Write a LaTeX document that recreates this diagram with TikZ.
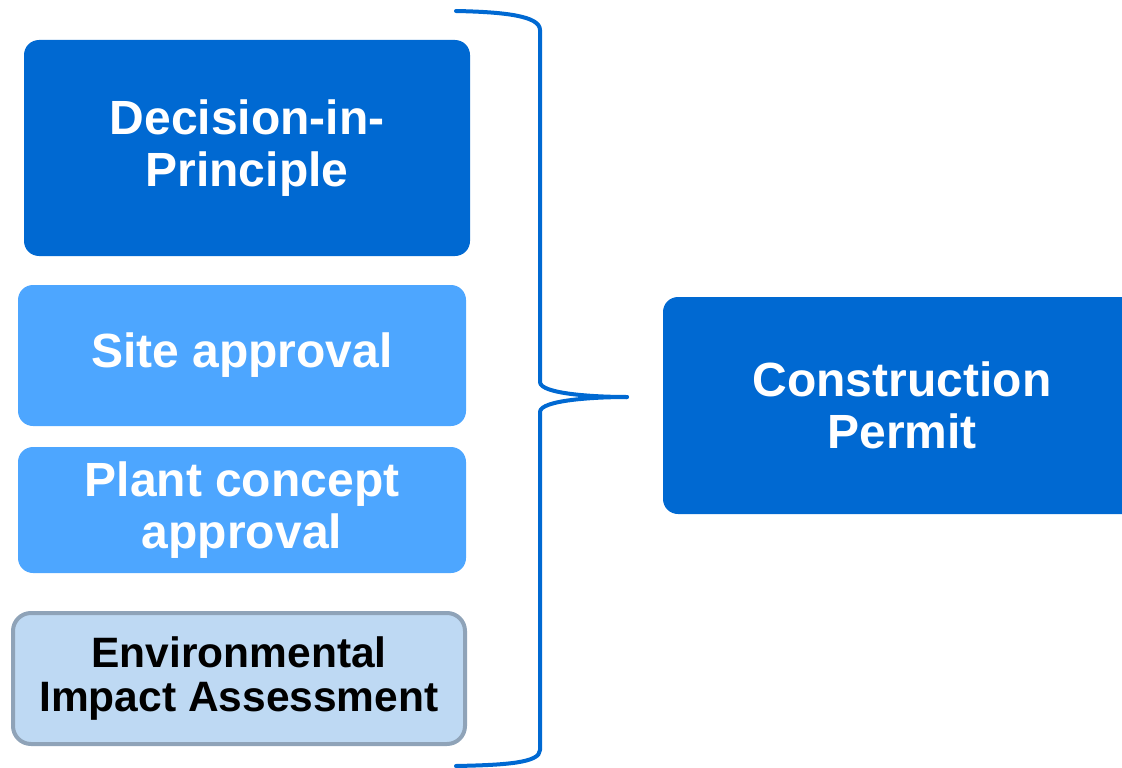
\documentclass[tikz,border=0pt]{standalone}
\usepackage{fontspec}
\setmainfont{Liberation Sans}
\definecolor{darkblue}{RGB}{0,105,210}
\definecolor{lightblue}{RGB}{77,166,255}
\definecolor{paleblue}{RGB}{190,217,243}
\definecolor{greyedge}{RGB}{143,163,184}
\tikzset{
  box/.style={rectangle, rounded corners=15pt, inner sep=0pt, align=center,
    font=\bfseries\fontsize{48}{52}\selectfont, text=white},
  darkbox/.style={box, fill=darkblue},
  lightbox/.style={box, fill=lightblue},
  palebox/.style={box, fill=paleblue, draw=greyedge, line width=4pt, rounded corners=18pt,
    text=black, font=\bfseries\fontsize{42.5}{44}\selectfont},
  bracket/.style={draw=darkblue, line width=4pt, line cap=round, line join=round}
}
\begin{document}
\begin{tikzpicture}[x=1pt,y=-1pt]
\path[use as bounding box] (0,0) rectangle (1122,768);
\clip (0,0) rectangle (1122,768);
\node[darkbox, minimum width=446pt, minimum height=216pt] (dip) at (247,148) {Decision-in-\\Principle};
\node[lightbox, minimum width=448pt, minimum height=141pt] (site) at (242,355.5) {Site approval};
\node[lightbox, minimum width=448pt, minimum height=126pt] (plant) at (242,510) {Plant concept\\approval};
\node[palebox, minimum width=452pt, minimum height=131pt] (eia) at (239,678.5) {Environmental\\Impact Assessment};
\node[darkbox, minimum width=478pt, minimum height=217pt] (cp) at (902,405.5) {Construction\\Permit};
\coordinate (tip) at (627,397);
\draw[bracket] (456,11) .. controls (505,12) and (540,16) .. (540,30) -- (540,382)
  .. controls (540,394) and (595,397) .. (tip);
\draw[bracket] (tip) .. controls (595,397) and (540,400) .. (540,412) -- (540,750)
  .. controls (540,763) and (505,765) .. (456,766);
\end{tikzpicture}
\end{document}
